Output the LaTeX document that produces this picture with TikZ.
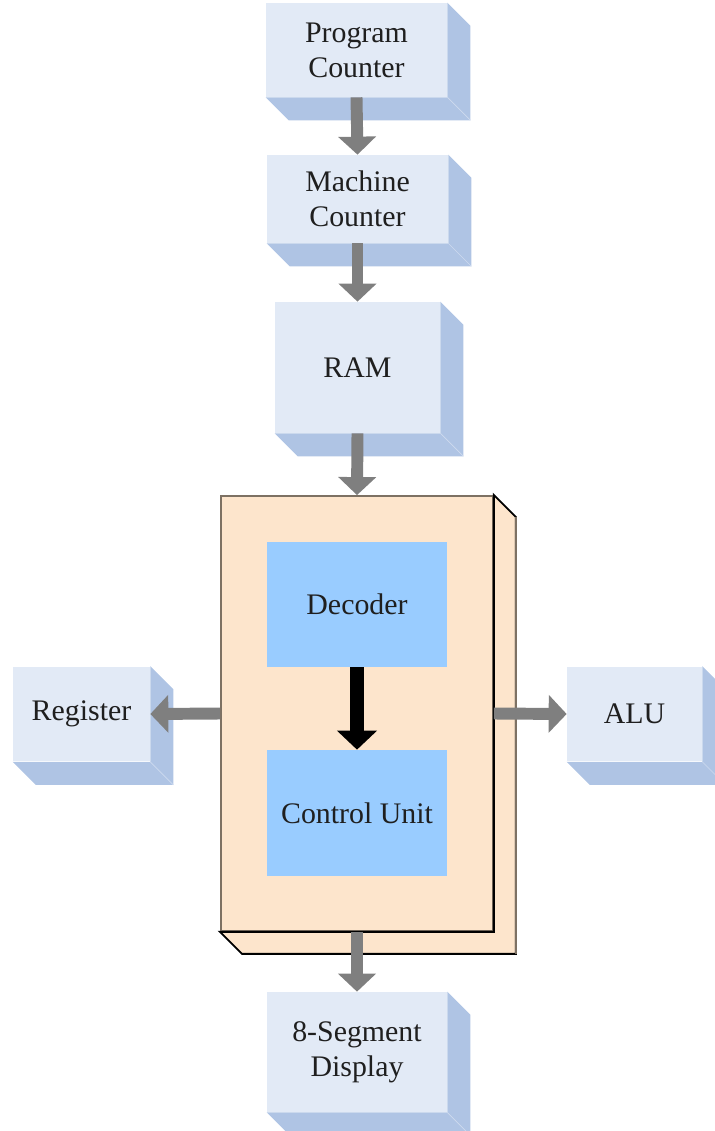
\documentclass[tikz,border=0pt]{standalone}
\usepackage{fontspec}
\setmainfont{Liberation Serif}
\usepackage{xcolor}
\usepackage{tikz}
\usetikzlibrary{calc}
\usetikzlibrary{arrows.meta}
\definecolor{frontblue}{HTML}{E2EAF6}
\definecolor{sideblue}{HTML}{AFC4E4}
\definecolor{peach}{HTML}{FDE5CC}
\definecolor{unitblue}{HTML}{99CCFF}
\definecolor{flowgray}{HTML}{7F7F7F}
\definecolor{edgebrown}{HTML}{7D7163}
\tikzset{
	block/.style={
			fill=frontblue, inner sep=0pt, align=center, text=black!88,
			font=\fontsize{17}{20}\selectfont
		},
	unit/.style={block, fill=unitblue},
	flow/.style={
			draw=flowgray, line width=6.8pt,
			-{Triangle[width=0.74cm, length=0.36cm]}
		},
	bigflow/.style={
			draw=black, line width=8.5pt,
			-{Triangle[width=0.78cm, length=0.38cm]}
		}
}

\begin{document}
\begin{tikzpicture}[x=0.02cm, y=-0.02cm]
			\useasboundingbox (0,0) rectangle (714,1131);

			\node[block, minimum width=3.62cm, minimum height=1.88cm] (pc) at (356.5,50) {Program\\Counter};
			\node[block, minimum width=3.62cm, minimum height=1.76cm] (mc) at (357.5,199) {Machine\\Counter};
			\node[block, minimum width=3.3cm, minimum height=2.62cm] (ram) at (357.5,367.5) {RAM};
			\node[fill=peach, draw=edgebrown, line width=1.1pt, inner sep=0pt,
				minimum width=5.44cm, minimum height=8.7cm] (cpu) at (357,713.5) {};
			\node[block, minimum width=2.74cm, minimum height=1.9cm] (reg) at (81.5,714) {Register};
			\node[block, minimum width=2.7cm, minimum height=1.9cm] (alu) at (634.5,714) {ALU};
			\node[block, minimum width=3.6cm, minimum height=2.4cm] (seg) at (357,1052) {8-Segment\\Display};

			% depth of the small blocks
			\foreach \n in {pc,mc,ram,reg,alu,seg}{
					\fill[sideblue] (\n.north east) -- ++(23,23) -- ($(\n.south east)+(23,23)$)
					-- ($(\n.south west)+(23,23)$) -- (\n.south west) -- (\n.south east) -- cycle;
					\draw[frontblue!60!sideblue, line width=0.4pt] (\n.south east) -- ++(23,23);
				}

			% depth of the processor block
			\filldraw[fill=peach, draw=black, line width=1.1pt] (cpu.north east) -- ++(22,22)
			-- ($(cpu.south east)+(22,22)$) -- ($(cpu.south west)+(22,22)$)
			-- (cpu.south west) -- (cpu.south east) -- cycle;
			\draw[black, line width=1.1pt] (cpu.north east) -- (cpu.south east) -- (cpu.south west);
			\draw[edgebrown, line width=1.1pt] ($(cpu.north east)+(22,22)$) -- ($(cpu.south east)+(22,22)$);

			\node[unit, minimum width=3.6cm, minimum height=2.5cm] (dec) at (357,604.5) {Decoder};
			\node[unit, minimum width=3.6cm, minimum height=2.52cm] (cu) at (357,813) {Control Unit};

			\draw[flow] (pc.south) -- (mc.north);
			\draw[flow] (mc.south) -- (ram.north);
			\draw[flow] (ram.south) -- (cpu.north);
			\draw[flow] (cpu.west) -- (reg.east);
			\draw[flow] (cpu.east) -- (alu.west);
			\draw[flow] (cpu.south) -- (seg.north);
			\draw[bigflow] (dec.south) -- (cu.north);
		\end{tikzpicture}
\end{document}
